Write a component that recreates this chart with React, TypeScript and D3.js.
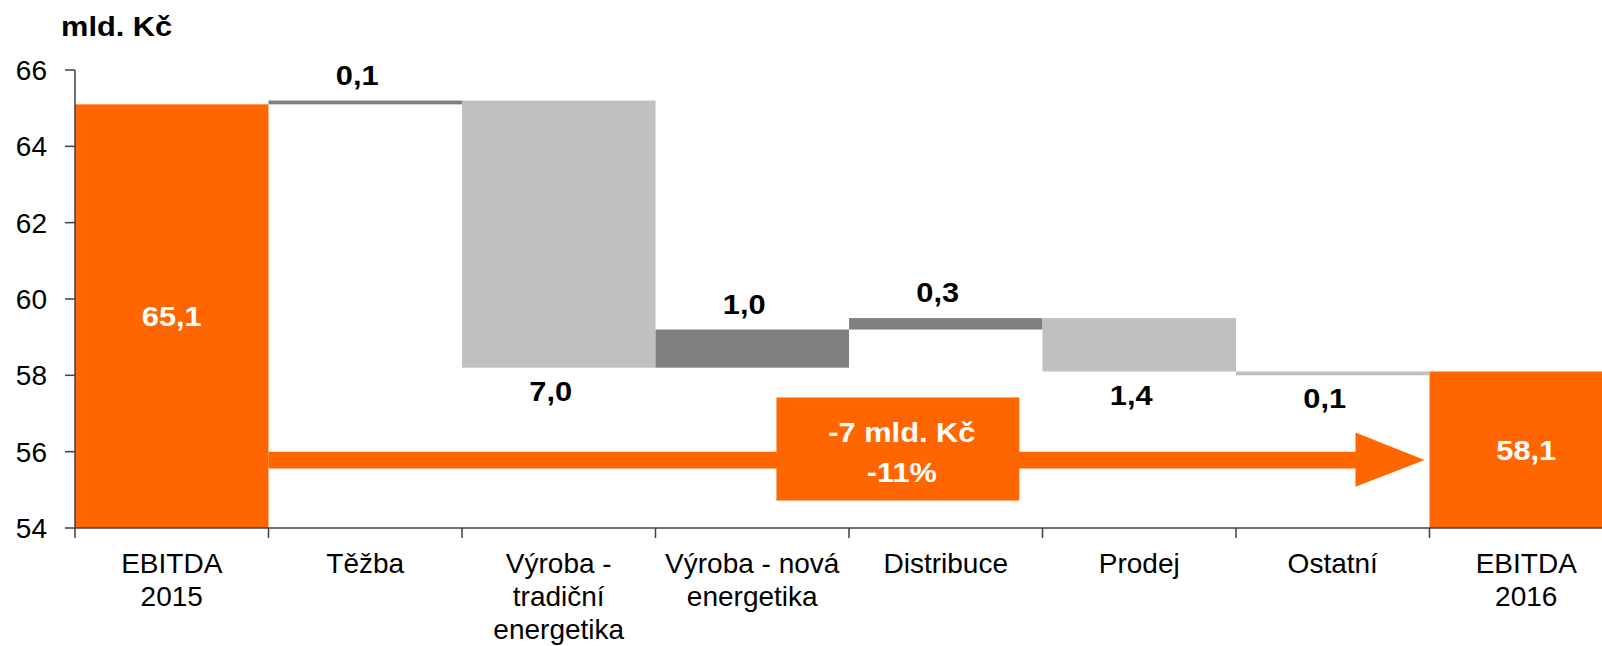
import React from 'react';
import * as d3 from 'd3';

const categoryLines = [
  ['EBITDA', '2015'],
  ['Těžba'],
  ['Výroba -', 'tradiční', 'energetika'],
  ['Výroba - nová', 'energetika'],
  ['Distribuce'],
  ['Prodej'],
  ['Ostatní'],
  ['EBITDA', '2016'],
];
const categories = categoryLines.map((l) => l.join(' '));
const startTotal = 65.1;
const endTotal = 58.1;
const changes = [0.1, -7.0, 1.0, 0.3, -1.4, -0.1];
const yTicks = [54, 56, 58, 60, 62, 64, 66];
const unitLabel = 'mld. Kč';
const summaryLines = ['-7 mld. Kč', '-11%'];

const ORANGE = '#FF6600';
const UP = '#808080';
const DOWN = '#C0C0C0';
const FONT = 'Arial, "Liberation Sans", sans-serif';

const W = 1602;
const H = 646;
const left = 75;
const step = 193.5;
const BOLD_SX = 1.1; // bold labels in the source are a bit wider

const fmt = (v: number) => d3.format('.1f')(Math.abs(v)).replace('.', ',');
const at = (x: number, y: number, sx = BOLD_SX) => `translate(${x},${y}) scale(${sx},1)`;

export default function App() {
  const x = d3.scaleBand<string>()
    .domain(categories)
    .range([left, left + step * categories.length])
    .padding(0);
  const y = d3.scaleLinear().domain([54, 66]).range([528, 70]);
  const bw = x.bandwidth();

  // waterfall steps
  let run = startTotal;
  const steps = changes.map((c, i) => {
    const from = run;
    run = +(run + c).toFixed(2);
    return { cat: categories[i + 1], from, to: run, change: c };
  });
  const totals = [
    { cat: categories[0], value: startTotal },
    { cat: categories[categories.length - 1], value: endTotal },
  ];

  // arrow geometry (in data units)
  const bandTop = y(56.0);
  const bandBot = y(55.56);
  const headTop = y(56.5);
  const headBot = y(55.08);
  const ax0 = x(categories[0])! + bw;
  const tip = x(categories[7])! - 5;
  const headBase = tip - 69;
  const midY = (bandTop + bandBot) / 2;

  const boxX0 = x(categories[3])! + 0.625 * bw;
  const boxX1 = x(categories[4])! + 0.88 * bw;
  const boxY0 = y(57.42);
  const boxY1 = y(54.72);

  return (
    <svg width={W} height={H} style={{ position: 'absolute', left: 0, top: 0, background: '#fff' }}
      fontFamily={FONT}>
      <style>{'body{margin:0}'}</style>

      {/* totals */}
      {totals.map((d) => (
        <g key={d.cat}>
          <rect x={x(d.cat)} y={y(d.value)} width={bw} height={y(54) - y(d.value)} fill={ORANGE} />
          <text transform={at(x(d.cat)! + bw / 2, (y(d.value) + y(54)) / 2 + 10)} textAnchor="middle"
            fill="#fff" fontWeight="bold" fontSize={28}>{fmt(d.value)}</text>
        </g>
      ))}

      {/* changes */}
      {steps.map((d) => {
        const top = y(Math.max(d.from, d.to));
        const bot = y(Math.min(d.from, d.to));
        const cx = x(d.cat)! + bw / 2;
        return (
          <g key={d.cat}>
            <rect x={x(d.cat)} y={top} width={bw} height={Math.max(bot - top, 3)}
              fill={d.change >= 0 ? UP : DOWN} />
            <text transform={at(cx - 8, d.change >= 0 ? top - 16 : bot + 33)} textAnchor="middle"
              fontWeight="bold" fontSize={28} fill="#000">{fmt(d.change)}</text>
          </g>
        );
      })}

      {/* arrow */}
      <path
        d={`M${ax0},${bandTop}H${headBase}V${headTop}L${tip},${midY}L${headBase},${headBot}V${bandBot}H${ax0}Z`}
        fill={ORANGE} />
      <rect x={boxX0} y={boxY0} width={boxX1 - boxX0} height={boxY1 - boxY0} fill={ORANGE} />
      {summaryLines.map((s, i) => (
        <text key={s} transform={at((boxX0 + boxX1) / 2 + 4, 442 + i * 40)} textAnchor="middle"
          fill="#fff" fontWeight="bold" fontSize={28}>{s}</text>
      ))}

      {/* y axis */}
      <line x1={left} x2={left} y1={y(66)} y2={y(54)} stroke="#404040" strokeWidth={1.5} />
      {yTicks.map((t) => (
        <g key={t}>
          <line x1={left - 10} x2={left} y1={y(t)} y2={y(t)} stroke="#404040" strokeWidth={1.5} />
          <text x={left - 28} y={y(t) + 10} textAnchor="end" fontSize={28} fill="#000">{t}</text>
        </g>
      ))}

      {/* x axis */}
      <line x1={left} x2={W} y1={y(54)} y2={y(54)} stroke="#404040" strokeWidth={1.5} />
      {categories.map((c) => (
        <line key={c} x1={x(c)} x2={x(c)} y1={y(54)} y2={y(54) + 10} stroke="#404040" strokeWidth={1.5} />
      ))}
      {categoryLines.map((lines, i) => (
        <text key={i} textAnchor="middle" fontSize={28} fill="#000">
          {lines.map((l, j) => (
            <tspan key={j} x={x(categories[i])! + bw / 2} y={573 + j * 33}>{l}</tspan>
          ))}
        </text>
      ))}

      <text transform={at(61, 36)} fontWeight="bold" fontSize={28} fill="#000">{unitLabel}</text>
    </svg>
  );
}
